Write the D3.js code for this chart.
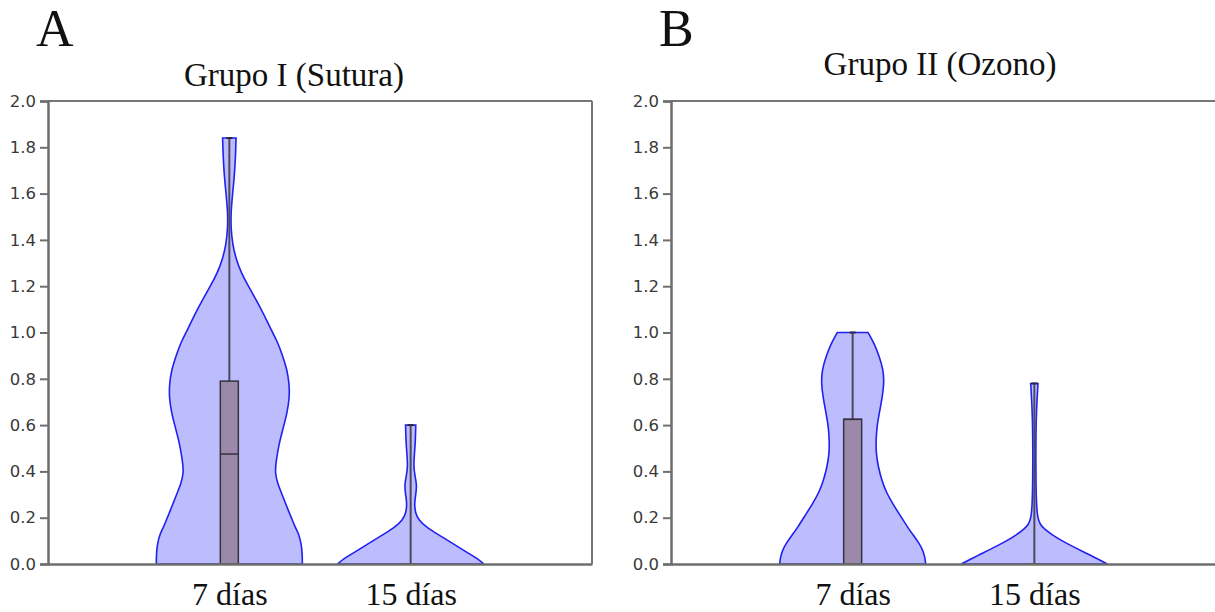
<!DOCTYPE html>
<html>
<head>
<meta charset="utf-8">
<script src="https://cdn.jsdelivr.net/npm/d3@7"></script>
<style>
  body { margin: 0; background: #fff; }
  svg { display: block; }
</style>
</head>
<body>
<div id="chart-area"></div>
<script>

// categories and axis ticks
var categories = ["7 días", "15 días"];
var yTicks = [0, 0.2, 0.4, 0.6, 0.8, 1.0, 1.2, 1.4, 1.6, 1.8, 2.0];

// violin profiles: [value, relative density]
var sutura7 = [[0,1.0],[0.04,1.0],[0.09,0.985],[0.13,0.95],[0.16,0.90],[0.20,0.85],[0.23,0.81],
               [0.27,0.76],[0.31,0.71],[0.35,0.66],[0.39,0.63],[0.43,0.635],[0.48,0.66],[0.53,0.69],
               [0.59,0.74],[0.65,0.79],[0.72,0.825],[0.78,0.82],[0.84,0.79],[0.90,0.73],[0.96,0.66],
               [1.02,0.56],[1.08,0.47],[1.14,0.37],[1.20,0.26],[1.26,0.16],[1.32,0.09],[1.38,0.045],
               [1.45,0.022],[1.52,0.022],[1.60,0.045],[1.68,0.07],[1.76,0.085],[1.84,0.092]];
var sutura15 = [[0,1.0],[0.02,0.93],[0.045,0.80],[0.07,0.67],[0.10,0.52],[0.13,0.36],[0.16,0.21],
                [0.19,0.11],[0.22,0.065],[0.26,0.05],[0.30,0.07],[0.34,0.085],[0.38,0.06],[0.42,0.04],
                [0.47,0.05],[0.53,0.065],[0.60,0.07]];
var ozono7 = [[0,1.0],[0.03,0.99],[0.06,0.96],[0.09,0.91],[0.12,0.84],[0.16,0.75],[0.21,0.65],
              [0.26,0.55],[0.31,0.46],[0.36,0.40],[0.42,0.35],[0.48,0.32],[0.54,0.32],[0.60,0.335],
              [0.66,0.37],[0.72,0.405],[0.78,0.43],[0.84,0.42],[0.90,0.36],[0.95,0.30],[1.0,0.21]];
var ozono15 = [[0,1.0],[0.025,0.85],[0.05,0.69],[0.075,0.53],[0.10,0.38],[0.125,0.25],[0.15,0.14],
               [0.17,0.08],[0.20,0.045],[0.25,0.03],[0.35,0.022],[0.50,0.02],[0.62,0.025],
               [0.70,0.035],[0.78,0.05]];

// box stats: [q1, median, q3, max]
var suturaBox = [[0, 0.475, 0.79, 1.84], [0, 0, 0, 0.60]];
var ozonoBox = [[0, 0.625, 0.625, 1.0], [0, 0, 0, 0.78]];

var panels = [
    { letter: "A", title: "Grupo I (Sutura)", x0: 48, x1: 592, titleX: 294, titleY: 86,
      violins: [sutura7, sutura15], boxes: suturaBox, right: true },
    { letter: "B", title: "Grupo II (Ozono)", x0: 671, x1: 1216, titleX: 940, titleY: 75,
      violins: [ozono7, ozono15], boxes: ozonoBox, right: false }
];

var width = 1215, height = 612;
var plotTop = 101, plotBottom = 564;

var svg = d3.select("#chart-area")
    .append("svg")
    .attr("width", width)
    .attr("height", height);

var y = d3.scaleLinear().domain([0, 2]).range([plotBottom, plotTop]);
var w = d3.scaleLinear().domain([0, 1]).range([0, 73]);

panels.forEach(function(p){

    var g = svg.append("g");

    var x = d3.scalePoint()
        .domain(categories)
        .range([p.x0, p.x1])
        .padding(1);

    // panel letter and title
    g.append("text")
        .attr("x", p.x0 - 12)
        .attr("y", 46)
        .attr("font-family", "Liberation Serif, serif")
        .attr("font-size", "52px")
        .attr("fill", "#111")
        .text(p.letter);

    g.append("text")
        .attr("x", p.titleX)
        .attr("y", p.titleY)
        .attr("text-anchor", "middle")
        .attr("font-family", "Liberation Serif, serif")
        .attr("font-size", "33px")
        .attr("fill", "#111")
        .text(p.title);

    // frame
    g.append("line")
        .attr("x1", p.x0).attr("x2", p.x1)
        .attr("y1", plotTop).attr("y2", plotTop)
        .attr("stroke", "#767676").attr("stroke-width", 2);
    if (p.right) {
        g.append("line")
            .attr("x1", p.x1).attr("x2", p.x1)
            .attr("y1", plotTop).attr("y2", plotBottom)
            .attr("stroke", "#767676").attr("stroke-width", 2);
    }

    // violins
    p.violins.forEach(function(v, i){
        var cx = x(categories[i]);
        var area = d3.area()
            .y(function(d){ return y(d[0]); })
            .x0(function(d){ return cx - w(d[1]); })
            .x1(function(d){ return cx + w(d[1]); })
            .curve(d3.curveBasis);

        g.append("path")
            .attr("d", area(v))
            .attr("fill", "#bdbdfd")
            .attr("stroke", "#2020f0")
            .attr("stroke-width", 1.6);

        var b = p.boxes[i];

        // whisker
        g.append("line")
            .attr("x1", cx).attr("x2", cx)
            .attr("y1", y(b[2])).attr("y2", y(b[3]))
            .attr("stroke", "#4a4a5a").attr("stroke-width", 2);
        g.append("line")
            .attr("x1", cx - 3).attr("x2", cx + 3)
            .attr("y1", y(b[3])).attr("y2", y(b[3]))
            .attr("stroke", "#2a2a3a").attr("stroke-width", 2);

        // box
        g.append("rect")
            .attr("x", cx - 9)
            .attr("width", 18)
            .attr("y", y(b[2]))
            .attr("height", y(b[0]) - y(b[2]))
            .attr("fill", "#9c89a9")
            .attr("stroke", "#33333f")
            .attr("stroke-width", 1.5);
        g.append("line")
            .attr("x1", cx - 9).attr("x2", cx + 9)
            .attr("y1", y(b[1])).attr("y2", y(b[1]))
            .attr("stroke", "#33333f").attr("stroke-width", 1.5);
    });

    // y axis
    var yAxis = g.append("g")
        .attr("transform", "translate(" + p.x0 + ",0)")
        .call(d3.axisLeft(y).tickValues(yTicks).tickFormat(d3.format(".1f")).tickSize(8).tickPadding(4));
    yAxis.select(".domain").attr("stroke", "#6e6e6e").attr("stroke-width", 2.5);
    yAxis.selectAll(".tick line").attr("stroke", "#6e6e6e").attr("stroke-width", 2);
    yAxis.selectAll(".tick text")
        .attr("font-family", "DejaVu Sans, sans-serif")
        .attr("font-size", "16.5px")
        .attr("fill", "#3a3a3a");

    // x axis
    var xAxis = g.append("g")
        .attr("transform", "translate(0," + plotBottom + ")")
        .call(d3.axisBottom(x).tickSize(0).tickPadding(18));
    xAxis.select(".domain").attr("stroke", "#6e6e6e").attr("stroke-width", 2.5);
    xAxis.selectAll(".tick text")
        .attr("font-family", "Liberation Serif, serif")
        .attr("font-size", "32px")
        .attr("fill", "#111");
});

</script>
</body>
</html>
